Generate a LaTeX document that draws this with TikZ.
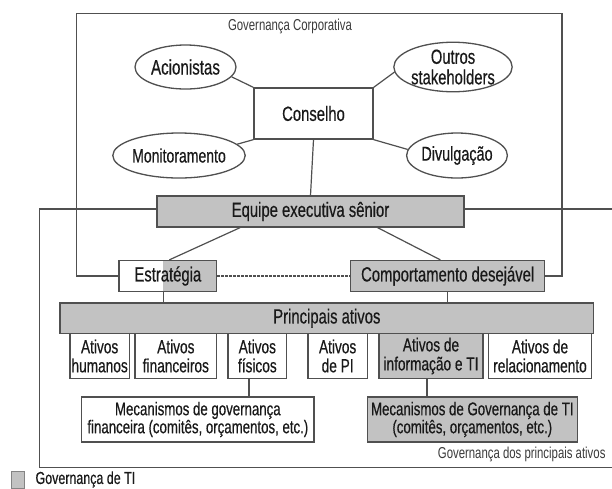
\documentclass[tikz,border=0pt]{standalone}
\usepackage{fontspec}
\setmainfont{Liberation Sans}[FakeStretch=0.72,FakeBold=0.45]
\newfontfamily\thinf{Liberation Sans}[FakeStretch=0.72]
\usetikzlibrary{shapes.geometric,calc}
\definecolor{boxgray}{RGB}{194,194,194}
\definecolor{linegray}{RGB}{80,80,80}
\definecolor{txt}{RGB}{25,25,25}
\begin{document}
\begin{tikzpicture}[x=1pt,y=-1pt,
  every node/.style={text=txt},
  ln/.style={draw=linegray,line width=1.3pt},
  wbox/.style={ln,rectangle,fill=white,inner sep=0pt,align=center},
  gbox/.style={wbox,fill=boxgray},
  ell/.style={ln,ellipse,fill=white,inner sep=0pt,align=center},
  conn/.style={draw=linegray,line width=1.2pt},
  big/.style={font=\fontsize{20.6pt}{21pt}\selectfont},
  mid/.style={font=\fontsize{19pt}{19pt}\selectfont},
  mec/.style={font=\fontsize{18.4pt}{18pt}\selectfont},
  small/.style={font=\thinf\fontsize{15.8pt}{16pt}\selectfont,text=txt!85},
  half/.style={path picture={\fill[boxgray] ([xshift=-54pt]path picture bounding box.south east) rectangle (path picture bounding box.north east);}},
]
\useasboundingbox (0,0) rectangle (612,488);
\clip (0,0) rectangle (612,488);
\fill[white] (0,0) rectangle (612,488);

% frame of the key assets governance (behind everything)
\draw[ln] (39.3,209) rectangle (650,467.7);

% corporate governance
\node[small] (tgc) at (290,26) {Governança Corporativa};
\node[wbox,big,minimum width=119pt,minimum height=51pt] (cons) at (313.5,113.5) {Conselho};
\node[ell,font=\fontsize{21pt}{21pt}\selectfont,minimum width=101pt,minimum height=44pt] (acion) at (185.5,67) {Acionistas};
\node[ell,font=\fontsize{20.5pt}{20.5pt}\selectfont,minimum width=100pt,minimum height=44pt] (outros) at (453,67) {Outros\\stakeholders};
\node[ell,font=\fontsize{19.5pt}{20pt}\selectfont,minimum width=94pt,minimum height=45pt] (monit) at (179,155.5) {Monitoramento};
\node[ell,font=\fontsize{20pt}{20pt}\selectfont,minimum width=92pt,minimum height=45pt] (divul) at (457,155.5) {Divulgação};

\node[gbox,big,minimum width=307pt,minimum height=31pt] (equipe) at (310.5,211.5) {Equipe executiva sênior};
\node[wbox,half,big,minimum width=97.7pt,minimum height=31pt] (strat) at (167.85,276) {Estratégia};
\node[gbox,big,minimum width=194pt,minimum height=31pt] (comp) at (447.7,276) {Comportamento desejável};

\node[gbox,big,minimum width=533.7pt,minimum height=30.3pt] (princ) at (326.85,318.15) {Principais ativos};

\node[wbox,mid,minimum width=59.3pt,minimum height=45.4pt] (hum) at (99.65,356) {Ativos\\humanos};
\node[wbox,mid,minimum width=81.7pt,minimum height=45.4pt] (fin) at (175.85,356) {Ativos\\financeiros};
\node[wbox,mid,minimum width=58.7pt,minimum height=45.4pt] (fis) at (257.35,356) {Ativos\\físicos};
\node[wbox,mid,minimum width=59.3pt,minimum height=45.4pt] (pi) at (337.65,356) {Ativos\\de PI};
\node[gbox,mid,minimum width=104pt,minimum height=45.4pt] (info) at (431,356) {Ativos de\\informação e TI};
\node[wbox,mid,minimum width=102.6pt,minimum height=45.4pt] (rel) at (540,356) {Ativos de\\relacionamento};

\node[wbox,mec,minimum width=232.3pt,minimum height=45pt] (mecf) at (197.85,419.5) {Mecanismos de governança\\financeira (comitês, orçamentos, etc.)};
\node[gbox,mec,minimum width=210pt,minimum height=45pt] (mecti) at (472.3,419.5) {Mecanismos de Governança de TI\\(comitês, orçamentos, etc.)};

\node[small,anchor=east] (tgp) at (609,454) {Governança dos principais ativos};

% corporate governance frame
\draw[ln] (strat.west) -| (76.7,13.3) -- (562,13.3) |- (comp.east);

% connectors
\draw[conn] (acion.-12) -- (cons.north west);
\draw[conn] (outros.185) -- (cons.north east);
\draw[conn] (monit.11) -- (cons.south west);
\draw[conn] (divul.173) -- (cons.south east);
\draw[conn] (cons.south) -- (equipe.north);
\draw[conn] ([xshift=83.7pt]equipe.south west) -- ([xshift=51pt]strat.north west);
\draw[conn] ([xshift=-87pt]equipe.south east) -- ([xshift=90.3pt]comp.north west);
\draw[conn,dash pattern=on 2.2pt off 1.8pt] (strat.east) -- (comp.west);
\coordinate (sg) at ([xshift=-54pt]strat.south east);
\draw[conn] (sg) -- (sg |- princ.north);
\draw[conn] (comp.south) -- (comp.south |- princ.north);
\coordinate (fg) at ([xshift=-8.35pt]fis.south);
\draw[conn] (fg) -- (fg |- mecf.north);
\coordinate (ig) at ([xshift=-4pt]info.south);
\draw[conn] (ig) -- (ig |- mecti.north);

% legend
\node[draw=linegray!70,line width=1pt,fill=boxgray,minimum width=13pt,minimum height=17pt,inner sep=0pt] (leg) at (18,480) {};
\node[anchor=west,font=\fontsize{17.3pt}{17pt}\selectfont] (legt) at (32,479.5) {Governança de TI};
\end{tikzpicture}
\end{document}
